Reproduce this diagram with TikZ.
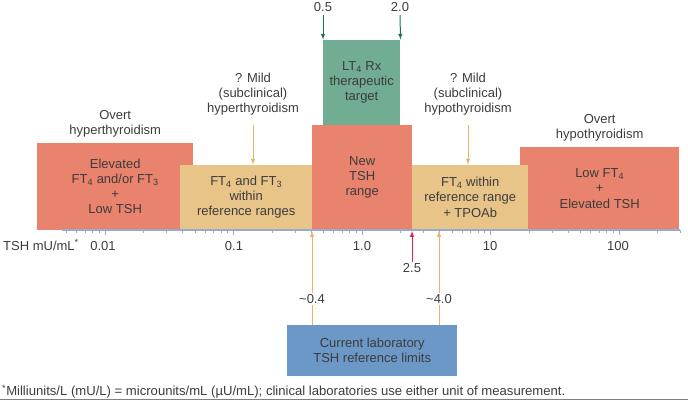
\documentclass[tikz,border=0pt]{standalone}
\usepackage{fontspec}
\setmainfont{Liberation Sans}
\usepackage{tikz}
\usetikzlibrary{positioning}
\usetikzlibrary{arrows}
\definecolor{salmon}{RGB}{234,131,110}
\definecolor{tanbox}{RGB}{233,196,137}
\definecolor{lgreen}{RGB}{112,173,146}
\definecolor{lblue}{RGB}{107,152,199}
\definecolor{txt}{RGB}{60,60,60}
\definecolor{axisc}{RGB}{150,172,205}
\definecolor{dgreen}{RGB}{30,115,85}
\definecolor{tanarr}{RGB}{232,180,105}
\definecolor{redarr}{RGB}{222,35,65}

\begin{document}
\begin{tikzpicture}[x=1pt, y=-1pt, node distance=4pt, >=latex,
box/.style={inner sep=0pt, align=center, text=txt, anchor=south west, font=\fontsize{13}{15.3}\selectfont},
lbl/.style={inner sep=1pt, align=center, text=txt, font=\fontsize{13}{15.3}\selectfont},
garr/.style={dgreen, line width=1pt},
tarr/.style={tanarr, line width=1pt},
rarr/.style={redarr, line width=1pt}]
\useasboundingbox (0,0) rectangle (688,400);

% red boxes
\node [box, fill=salmon, minimum width=156pt, minimum height=87pt] (overhyper) at (37,230)
  {Elevated\\FT\textsubscript{4} and/or FT\textsubscript{3}\\+\\Low TSH};
\node [box, fill=salmon, minimum width=100pt, minimum height=105pt] (newtsh) at (312,230)
  {New\\TSH\\range};
\node [box, fill=salmon, minimum width=159pt, minimum height=83pt] (overhypo) at (520,230)
  {Low FT\textsubscript{4}\\+\\Elevated TSH};

% tan boxes
\node [box, fill=tanbox, minimum width=132pt, minimum height=65pt] (mildhyper) at (180,230)
  {FT\textsubscript{4} and FT\textsubscript{3}\\within\\reference ranges};
\node [box, fill=tanbox, minimum width=116pt, minimum height=65pt] (mildhypo) at (412,230)
  {FT\textsubscript{4} within\\reference range\\+ TPOAb};

% green box
\node [box, fill=lgreen, minimum width=77pt, minimum height=85pt] (lt4) at (323,125)
  {LT\textsubscript{4} Rx\\therapeutic\\target};

% blue box
\node [box, fill=lblue, minimum width=170pt, minimum height=51pt] (current) at (287,376)
  {Current laboratory\\TSH reference limits};

% labels above
\node [lbl, above=4pt of overhyper] (lovhyper) {Overt\\hyperthyroidism};
\node [lbl, above=4pt of overhypo] (lovhypo) {Overt\\hypothyroidism};
\node [lbl] (lmildhyper) at (253,94) {? Mild\\(subclinical)\\hyperthyroidism};
\node [lbl] (lmildhypo) at (468,94) {? Mild\\(subclinical)\\hypothyroidism};
\draw [tarr,->,shorten <=8pt] (lmildhyper) -- (lmildhyper |- mildhyper.north);
\draw [tarr,->,shorten <=8pt] (lmildhypo) -- (lmildhypo |- mildhypo.north);

% therapeutic target limits
\node [lbl] (lab05) at (323,7) {0.5};
\node [lbl] (lab20) at (400,7) {2.0};
\draw [garr,->,shorten <=2pt] (lab05) -- (lt4.north west);
\draw [garr,->,shorten <=2pt] (lab20) -- (lt4.north east);

% axis
\coordinate (axl) at (62,230);
\coordinate (axr) at (680,230);
\draw [axisc, line width=1.1pt] (axl) -- (axr);
\begin{scope}
\clip (60,226) rectangle (683,240);
\foreach \d in {-3,...,2} {
  \foreach \m in {1,...,9} {
    \pgfmathsetmacro\tl{\m==1 ? 5 : 3}
    \draw [axisc, thin] ({362+128.5*(\d+log10(\m))},230) -- ++(0,\tl);
  }
}
\end{scope}
\node [lbl, anchor=west] (tshunit) at (2,245) {TSH mU/mL\textsuperscript{*}};
\foreach \v/\nm/\x in {0.01/t1/103, 0.1/t2/234, 1.0/t3/362, 10/t4/490, 100/t5/618}
  \node [lbl] (\nm) at (\x,246) {\v};

% reference limits
\coordinate (ax04) at (312,231);
\coordinate (ax40) at (439,231);
\coordinate (ax25) at (412,231);
\node [lbl] (lab04) at (312,299) {\textasciitilde0.4};
\node [lbl] (lab40) at (439,299) {\textasciitilde4.0};
\node [lbl] (lab25) at (412,268) {2.5};
\draw [tarr,->] (lab04) -- (ax04);
\draw [tarr] (lab04) -- (lab04 |- current.north);
\draw [tarr,->] (lab40) -- (ax40);
\draw [tarr] (lab40) -- (lab40 |- current.north);
\draw [rarr,->] (lab25) -- (ax25);

% footnote
\node [lbl, anchor=west, font=\fontsize{13.1}{14}\selectfont] (note) at (1,392)
  {\textsuperscript{*}Milliunits/L (mU/L) = microunits/mL (µU/mL); clinical laboratories use either unit of measurement.};
\coordinate (botl) at (0,399.4);
\coordinate (botr) at (688,399.4);
\draw [gray, line width=1.2pt] (botl) -- (botr);
\end{tikzpicture}
\end{document}
